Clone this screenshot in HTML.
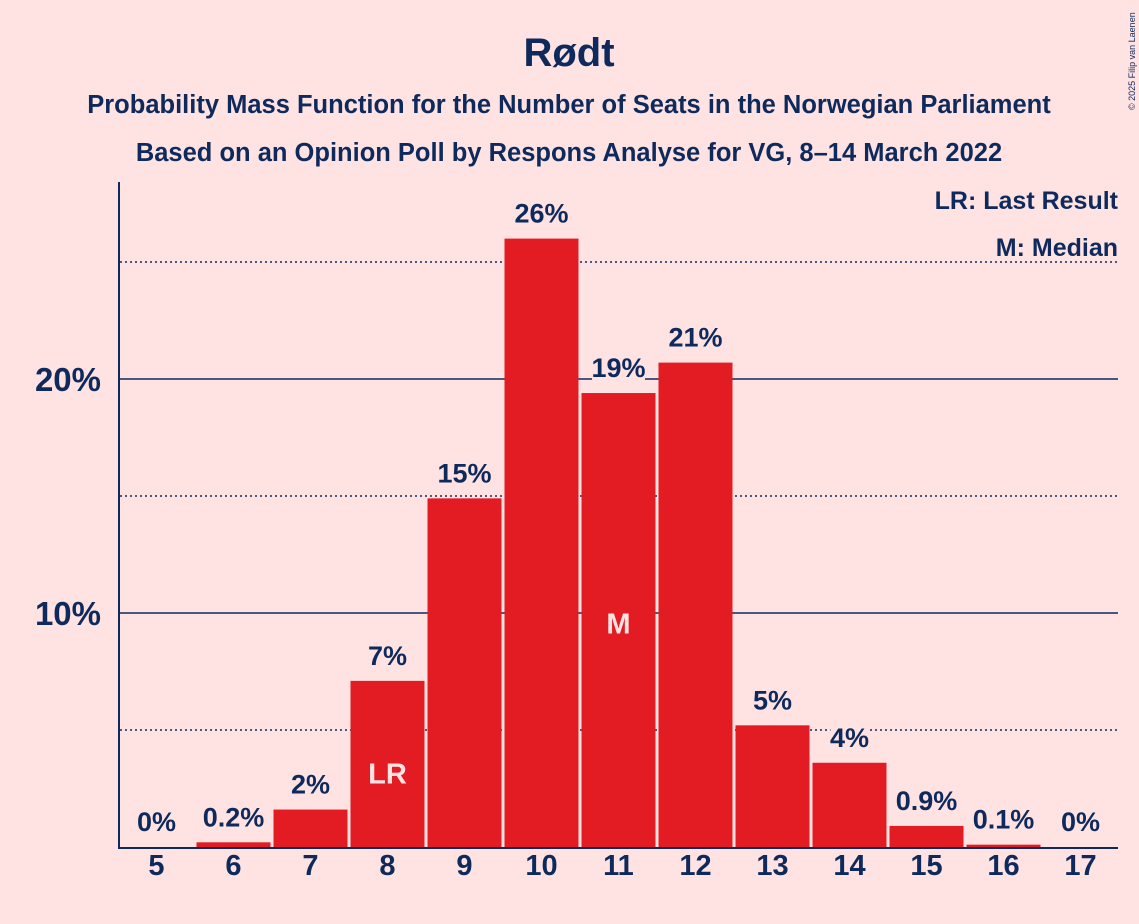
<!DOCTYPE html>
<html><head><meta charset="utf-8"><style>
html,body{margin:0;padding:0;background:#FFE2E2;}
svg{display:block;font-family:"Liberation Sans",sans-serif;font-weight:bold;}
</style></head><body>
<svg width="1139" height="924">
<rect width="1139" height="924" fill="#FFE2E2"/>
<text x="569" y="66" text-anchor="middle" font-size="40" fill="#0E2A5C">Rødt</text>
<text x="569" y="113" text-anchor="middle" font-size="25.5" fill="#0E2A5C">Probability Mass Function for the Number of Seats in the Norwegian Parliament</text>
<text x="569" y="161" text-anchor="middle" font-size="25.5" fill="#0E2A5C">Based on an Opinion Poll by Respons Analyse for VG, 8–14 March 2022</text>
<text x="1135" y="110" font-size="9" font-weight="normal" fill="#0E2A5C" transform="rotate(-90 1135 110)">© 2025 Filip van Laenen</text>
<g id="grid"></g>
<g id="bars"></g>
<g id="labels"></g>
<line x1="119" y1="182" x2="119" y2="848" stroke="#0E2A5C" stroke-width="2"/>
<line x1="118" y1="848" x2="1118" y2="848" stroke="#0E2A5C" stroke-width="2"/>
<text x="1118" y="209" text-anchor="end" font-size="25" fill="#0E2A5C">LR: Last Result</text>
<text x="1118" y="256" text-anchor="end" font-size="25" fill="#0E2A5C">M: Median</text>
</svg>
<script>
const categories=[5,6,7,8,9,10,11,12,13,14,15,16,17];
const values=[0,0.2,1.6,7.1,14.9,26.0,19.4,20.7,5.2,3.6,0.9,0.1,0];
const valueLabels=["0%","0.2%","2%","7%","15%","26%","19%","21%","5%","4%","0.9%","0.1%","0%"];
const gridValues=[5,10,15,20,25];
const tickValues=[10,20];
const tickLabels=["10%","20%"];
const lastResult=8, median=11;
const NS="http://www.w3.org/2000/svg";
const y=v=>847-v*23.4;
const x=c=>156.5+(c-5)*77;
function mk(tag,attrs,parent,text){const e=document.createElementNS(NS,tag);for(const k in attrs)e.setAttribute(k,attrs[k]);if(text!==undefined)e.textContent=text;document.getElementById(parent).appendChild(e);return e;}
gridValues.forEach(g=>{
  const solid=g%10===0;
  const l=mk('line',{x1:120,x2:1118,y1:y(g),y2:y(g),stroke:'#0E2A5C','stroke-width':solid?1.6:1.5,'stroke-dasharray':solid?'none':'2,3'},'grid');
  
  
});
tickValues.forEach((t,i)=>{
  const e=mk('text',{x:101,y:y(t)+12,'text-anchor':'end','font-size':33,fill:'#0E2A5C'},'grid',tickLabels[i]);
  
  
});
categories.forEach((c,i)=>{
  const v=values[i];
  if(v>0){
    const b=mk('rect',{x:x(c)-37,y:y(v),width:74,height:847-y(v),fill:'#E31C24'},'bars');
    
    
  }
  const w=Math.min(74,valueLabels[i].length*15+8);
  const bg=mk('rect',{x:x(c)-w/2,y:y(v)-42,width:w,height:32,fill:'#FFE2E2'},'labels');
  
  
  const t=mk('text',{x:x(c),y:y(v)-16,'text-anchor':'middle','font-size':27,fill:'#0E2A5C'},'labels',valueLabels[i]);
  
  
  const xl=mk('text',{x:x(c),y:875,'text-anchor':'middle','font-size':29,fill:'#0E2A5C'},'labels',String(c));
  
  
  if(c===lastResult){
    const m=mk('text',{x:x(c),y:y(v/2-0.4)+10,'text-anchor':'middle','font-size':29,fill:'#FFE2E2'},'labels','LR');
    
    
  }
  if(c===median){
    const m=mk('text',{x:x(c),y:y(v/2-0.4)+4,'text-anchor':'middle','font-size':29,fill:'#FFE2E2'},'labels','M');
    
    
  }
});
</script>
</body></html>
